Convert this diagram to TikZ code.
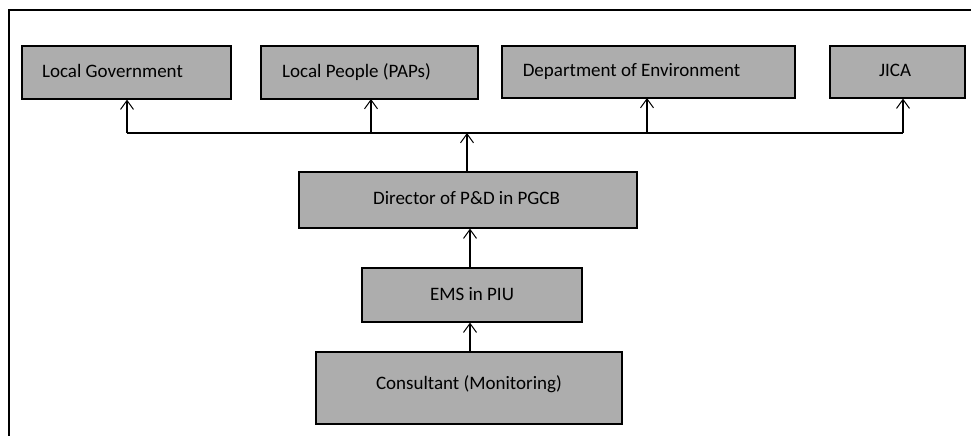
\documentclass[tikz,border=0pt]{standalone}
\usepackage{fontspec}
\setmainfont{Carlito}
\usetikzlibrary{arrows.meta}
\begin{document}
\begin{tikzpicture}[x=1pt,y=-1pt,
  box/.style={draw=black,line width=1.2pt,fill=black!32,inner sep=0pt,font=\fontsize{19}{21}\selectfont},
  conn/.style={line width=1.1pt,-{Straight Barb[length=9pt,width=13pt,line width=1pt]}}]
\useasboundingbox (0,0) rectangle (971,436);
\draw[line width=2pt] (9,436) -- (9,10) -- (971,10);
\node[box,minimum width=209pt,minimum height=53pt] (lg) at (126.5,72.5) {\raisebox{4pt}{Local Government}\kern28pt};
\node[box,minimum width=217pt,minimum height=53pt] (lp) at (369.5,72.5) {\raisebox{4pt}{Local People (PAPs)}\kern26pt};
\node[box,minimum width=293pt,minimum height=52pt] (de) at (648.5,72) {\raisebox{4pt}{Department of Environment}\kern34pt};
\node[box,minimum width=135pt,minimum height=52pt] (ji) at (897.5,72) {\raisebox{4pt}{JICA}\kern5pt};
\node[box,minimum width=338pt,minimum height=56pt] (dir) at (468,200) {\raisebox{4pt}{Director of P\&D in PGCB}\kern3pt};
\node[box,minimum width=220pt,minimum height=54pt] (ems) at (472,295) {\raisebox{3pt}{EMS in PIU}};
\node[box,minimum width=306pt,minimum height=72pt] (con) at (469,388) {\raisebox{10pt}{Consultant (Monitoring)}};
\coordinate (j) at (467,133);
\coordinate (l1) at (127,133);
\coordinate (l4) at (903,133);
\draw[line width=1.1pt] (l1) -- (l4);
\draw[conn] (l1) -- (l1 |- lg.south);
\draw[conn] (371,133) -- (371,99);
\draw[conn] (647,133) -- (647,98);
\draw[conn] (l4) -- (l4 |- ji.south);
\draw[conn] (dir.north -| j) -- (j);
\draw[conn] (ems.north -| 470,0) -- (dir.south -| 470,0);
\draw[conn] (con.north -| 470,0) -- (ems.south -| 470,0);
\end{tikzpicture}
\end{document}
